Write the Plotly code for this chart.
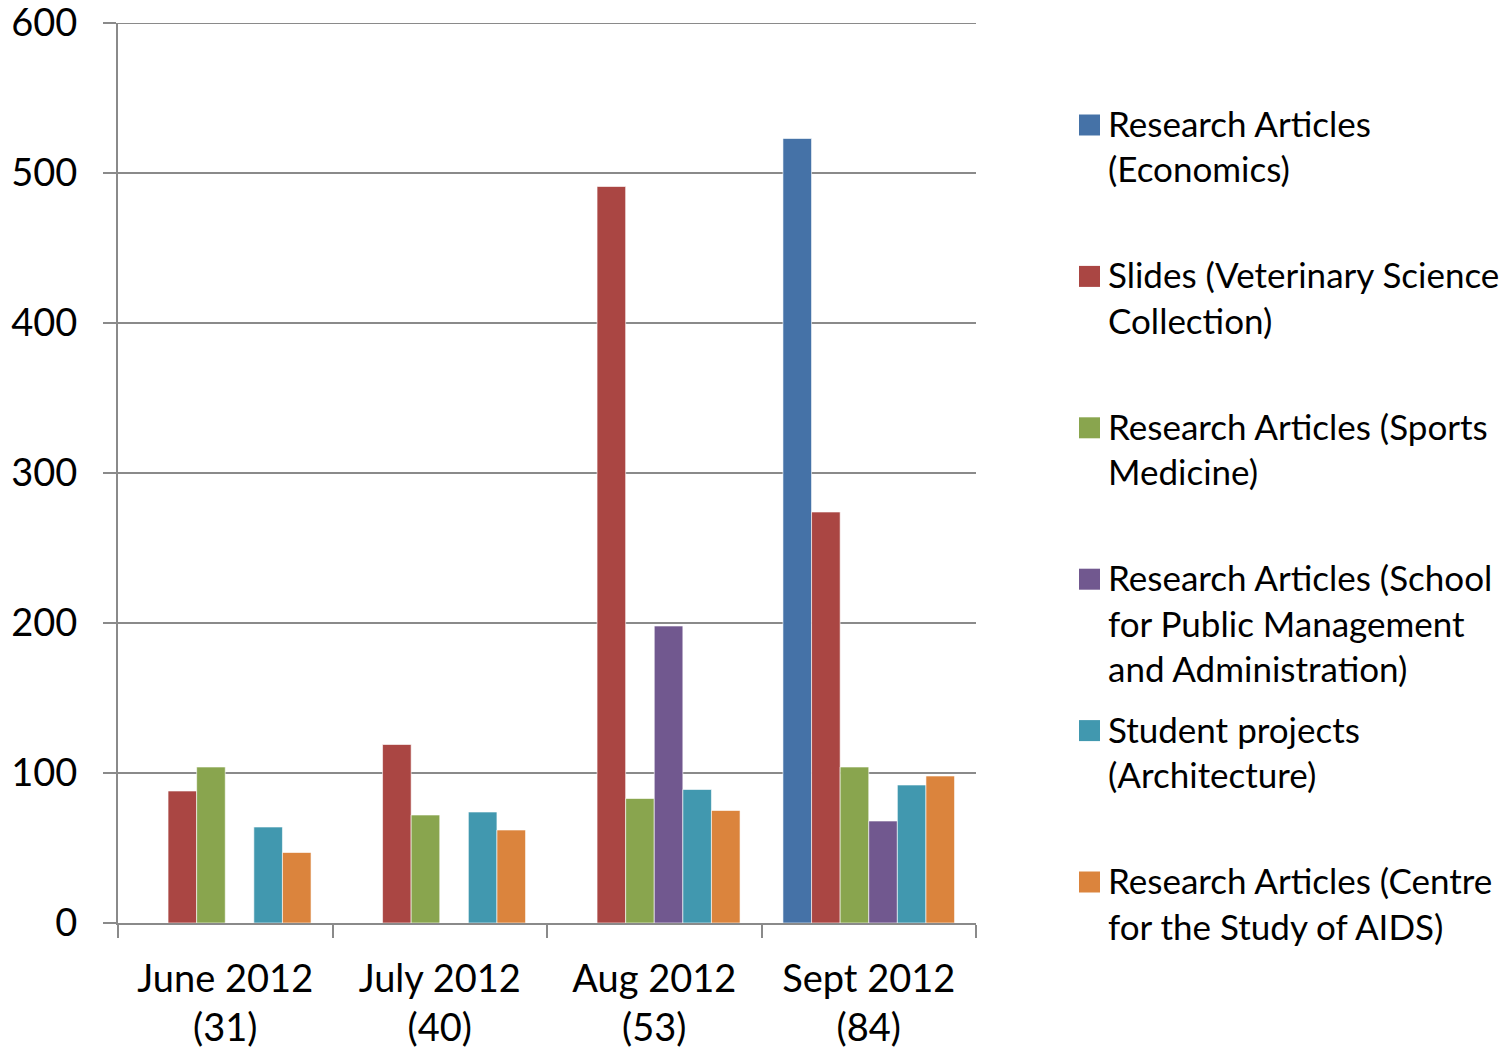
import plotly.graph_objects as go

# data
months = ["June 2012<br>(31)", "July 2012<br>(40)", "Aug 2012<br>(53)", "Sept 2012<br>(84)"]

series_names = [
    "Research Articles<br>(Economics)",
    "Slides (Veterinary Science<br>Collection)",
    "Research Articles (Sports<br>Medicine)",
    "Research Articles (School<br>for Public Management<br>and Administration)",
    "Student projects<br>(Architecture)",
    "Research Articles (Centre<br>for the Study of AIDS)",
]
economics = [0, 0, 0, 523]
vet_slides = [88, 119, 491, 274]
sports_med = [104, 72, 83, 104]
public_mgmt = [0, 0, 198, 68]
architecture = [64, 74, 89, 92]
aids_centre = [47, 62, 75, 98]

colors = ["#4572A7", "#AA4643", "#89A54E", "#71588F", "#4198AF", "#DB843D"]

# the page body adds an 8px margin, so the figure is made 8px smaller
# and every pixel position below is given in window pixels minus OFF
OFF = 8
W, H = 1507 - OFF, 1051 - OFF
L, R, T, B = 118 - OFF, 976 - OFF, 23 - OFF, 923 - OFF  # plot area

FONT = "Lato, 'Open Sans', sans-serif"
GRID = "#8a8a8a"

fig = go.Figure()
for name, vals, col in zip(series_names,
                           [economics, vet_slides, sports_med, public_mgmt, architecture, aids_centre],
                           colors):
    fig.add_trace(go.Bar(
        x=months, y=vals, name=name.replace("<br>", " "),
        marker=dict(color=col, line=dict(color="rgba(255,255,255,0.6)", width=1)),
    ))

fig.update_layout(
    width=W, height=H,
    margin=dict(l=L, r=W - R, t=T, b=H - B),
    paper_bgcolor="white", plot_bgcolor="white",
    barmode="group", bargap=0.2, bargroupgap=0,
    showlegend=False,
    font=dict(family=FONT, color="black"),
)
fig.update_yaxes(
    range=[0, 600], dtick=100, automargin=False,
    showgrid=True, gridcolor=GRID, gridwidth=2,
    showline=True, linecolor=GRID, linewidth=2,
    ticks="outside", ticklen=13, tickcolor=GRID, tickwidth=2,
    tickfont=dict(size=38), ticklabelstandoff=18,
    ticklabeloverflow="allow",
    zeroline=False,
)
fig.update_xaxes(
    automargin=False,
    showline=True, linecolor=GRID, linewidth=2,
    ticks="outside", ticklen=13, tickcolor=GRID, tickwidth=2,
    tickson="boundaries",
    tickfont=dict(size=38), ticklabelstandoff=21,
    ticklabeloverflow="allow",
)
# plotly drops the gridline sitting on the top edge of the range; put it back
fig.add_hline(y=600, line=dict(color=GRID, width=2), layer="below")

# legend drawn by hand so the spacing matches the original
def px_x(px):
    return (px - OFF - L) / (R - L)

def px_y(py):
    return (B - (py - OFF)) / (B - T)

entry_step = 151.4
line_step = 45.5
for i, (name, col) in enumerate(zip(series_names, colors)):
    top = 124 + entry_step * i
    fig.add_shape(type="rect", xref="paper", yref="paper",
                  x0=px_x(1079), x1=px_x(1100),
                  y0=px_y(top - 9.5), y1=px_y(top + 11.5),
                  fillcolor=col, line=dict(width=0))
    for j, line in enumerate(name.split("<br>")):
        fig.add_annotation(xref="paper", yref="paper",
                           x=px_x(1106), y=px_y(top - 1 + j * line_step),
                           xanchor="left", yanchor="middle",
                           text=line, showarrow=False,
                           font=dict(size=35, family=FONT, color="black"))

fig.write_html("out.html")
